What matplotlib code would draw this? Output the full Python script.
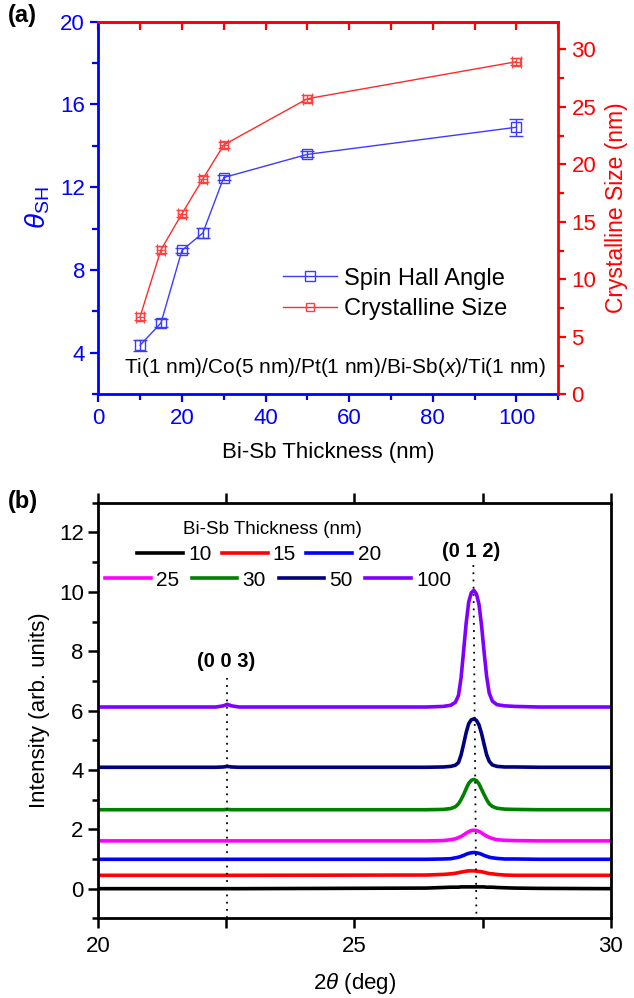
import matplotlib
matplotlib.use("Agg")
import matplotlib.pyplot as plt
from matplotlib.ticker import MultipleLocator

plt.rcParams['font.family'] = ['Liberation Sans', 'DejaVu Sans']
plt.rcParams['mathtext.fontset'] = 'custom'
plt.rcParams['mathtext.rm'] = 'Liberation Sans'
plt.rcParams['mathtext.it'] = 'Liberation Sans:italic'
plt.rcParams['mathtext.bf'] = 'Liberation Sans:bold'

# ---- panel (a) data ----
thick = [10, 15, 20, 25, 30, 50, 100]
sha = [4.37, 5.45, 8.95, 9.79, 12.47, 13.59, 14.90]
sha_err = [0.27, 0.20, 0.12, 0.22, 0.12, 0.14, 0.40]
size = [6.75, 12.57, 15.70, 18.72, 21.68, 25.70, 28.92]
size_err = [0.3, 0.3, 0.3, 0.3, 0.3, 0.3, 0.3]
size_xerr = [1.0, 1.0, 1.0, 1.0, 1.0, 1.0, 1.0]

# ---- panel (b) data: XRD scans ----
two_theta = [20.0, 22.3, 22.44, 22.52, 22.6, 22.75, 26.4,
             26.73, 26.88, 26.97, 27.03, 27.08, 27.13, 27.18, 27.23, 27.28, 27.33,
             27.38, 27.43, 27.48, 27.53, 27.58, 27.63, 27.69, 27.78, 27.93, 28.13,
             28.6, 30.0]
xrd_10 = [0.00, 0.00, 0.00, 0.00, 0.00, 0.00, 0.02,
          0.04, 0.05, 0.05, 0.05, 0.06, 0.06, 0.06, 0.06, 0.06, 0.06,
          0.06, 0.06, 0.06, 0.06, 0.05, 0.05, 0.05, 0.04, 0.03, 0.02,
          0.01, 0.00]
xrd_15 = [0.45, 0.45, 0.45, 0.45, 0.45, 0.45, 0.46,
          0.48, 0.50, 0.52, 0.54, 0.56, 0.57, 0.59, 0.60, 0.60, 0.60,
          0.59, 0.58, 0.57, 0.55, 0.53, 0.51, 0.50, 0.48, 0.46, 0.45,
          0.45, 0.45]
xrd_20 = [0.99, 0.99, 0.99, 0.99, 0.99, 0.99, 0.99,
          1.00, 1.01, 1.04, 1.06, 1.09, 1.12, 1.16, 1.19, 1.21, 1.22,
          1.21, 1.19, 1.16, 1.12, 1.09, 1.06, 1.04, 1.02, 1.00, 1.00,
          0.99, 0.99]
xrd_25 = [1.61, 1.61, 1.61, 1.61, 1.61, 1.61, 1.61,
          1.62, 1.65, 1.68, 1.72, 1.76, 1.81, 1.87, 1.92, 1.96, 1.97,
          1.96, 1.93, 1.88, 1.82, 1.77, 1.73, 1.69, 1.65, 1.63, 1.62,
          1.61, 1.61]
xrd_30 = [2.66, 2.66, 2.66, 2.67, 2.66, 2.66, 2.66,
          2.67, 2.70, 2.76, 2.86, 3.00, 3.17, 3.37, 3.55, 3.65, 3.68,
          3.64, 3.53, 3.35, 3.17, 3.00, 2.86, 2.77, 2.71, 2.68, 2.67,
          2.66, 2.66]
xrd_50 = [4.09, 4.09, 4.10, 4.12, 4.10, 4.09, 4.09,
          4.10, 4.12, 4.16, 4.25, 4.50, 4.87, 5.26, 5.56, 5.69, 5.72,
          5.67, 5.52, 5.23, 4.86, 4.51, 4.29, 4.17, 4.12, 4.10, 4.10,
          4.09, 4.09]
xrd_100 = [6.12, 6.12, 6.16, 6.21, 6.16, 6.12, 6.12,
           6.14, 6.18, 6.28, 6.51, 7.10, 8.01, 8.95, 9.66, 9.97, 10.05,
           9.93, 9.58, 8.87, 7.97, 7.14, 6.59, 6.32, 6.20, 6.16, 6.14,
           6.12, 6.12]
xrd_labels = ['10', '15', '20', '25', '30', '50', '100']
xrd_colors = ['#000000', '#ff0000', '#0000ff', '#ff00ff', '#008000', '#000080', '#8000ff']
peak_003 = 22.52
peak_012 = 27.33

BLUE = '#0000ff'
RED = '#ff0000'

fig = plt.figure(figsize=(6.34, 9.98), dpi=100)

# ================= (a) =================
ax1 = fig.add_axes([0.155, 0.6049, 0.7256, 0.3734])
ax2 = ax1.twinx()

l1, = ax1.plot(thick, sha, '-s', color='#3c3cff', lw=1.0, ms=7, mfc='none', mec='#3c3cff', mew=1.0)
ax1.errorbar(thick, sha, yerr=sha_err, fmt='none', ecolor='#3c3cff', elinewidth=1.0, capsize=5, capthick=1.0)
l2, = ax2.plot(thick, size, '-s', color='#ff2a2a', lw=1.0, ms=5.5, mfc='none', mec='#ff4040', mew=1.0)
ax2.errorbar(thick, size, yerr=size_err, xerr=size_xerr, fmt='none', ecolor='#ff4040',
             elinewidth=0.9, capsize=4, capthick=0.9)

ax1.set_xlim(0, 110)
ax1.set_ylim(2, 20)
ax2.set_ylim(0, 32.4)

ax1.xaxis.set_major_locator(MultipleLocator(20))
ax1.xaxis.set_minor_locator(MultipleLocator(10))
ax1.yaxis.set_major_locator(MultipleLocator(4))
ax1.yaxis.set_minor_locator(MultipleLocator(2))
ax2.yaxis.set_major_locator(MultipleLocator(5))
ax2.yaxis.set_minor_locator(MultipleLocator(2.5))

for s in ['left', 'bottom']:
    ax1.spines[s].set_color(BLUE)
    ax1.spines[s].set_linewidth(2)
    ax2.spines[s].set_visible(False)
for s in ['right', 'top']:
    ax2.spines[s].set_color(RED)
    ax2.spines[s].set_linewidth(2)
    ax1.spines[s].set_visible(False)

ax1.tick_params(axis='both', which='major', direction='out', length=6, width=1.6,
                color=BLUE, labelcolor=BLUE, labelsize=16)
ax1.tick_params(axis='both', which='minor', direction='out', length=4, width=1.6, color=BLUE)
ax2.tick_params(axis='y', which='major', direction='out', length=6, width=1.6,
                color=RED, labelcolor=RED, labelsize=16)
ax2.tick_params(axis='y', which='minor', direction='out', length=4, width=1.6, color=RED)

top = ax1.secondary_xaxis('top')
top.xaxis.set_major_locator(MultipleLocator(10))
top.tick_params(axis='x', direction='in', length=6, width=1.6, color=RED, labeltop=False)
top.spines['top'].set_color(RED)
top.spines['top'].set_linewidth(2)

ax1.set_xlabel('Bi-Sb Thickness (nm)', fontsize=16, labelpad=10)
ax1.set_ylabel(r'$\theta_{\rm SH}$', fontsize=20, color=BLUE, labelpad=6)
ax2.set_ylabel('Crystalline Size (nm)', fontsize=16.5, color=RED, labelpad=6)

ax2.legend([l1, l2], ['Spin Hall Angle', 'Crystalline Size'], loc='center left',
           bbox_to_anchor=(0.375, 0.27), frameon=False, fontsize=17, handlelength=2.3,
           handletextpad=0.3, labelspacing=0.35, borderpad=0)
ax1.text(0.515, 0.071, r'Ti(1 nm)/Co(5 nm)/Pt(1 nm)/Bi-Sb($\it{x}$)/Ti(1 nm)',
         transform=ax1.transAxes, ha='center', va='center', fontsize=15)

fig.text(0.012, 0.984, '(a)', fontsize=17, fontweight='bold', va='center')

# ================= (b) =================
ax3 = fig.add_axes([0.155, 0.0798, 0.8082, 0.4164])
curves = [xrd_10, xrd_15, xrd_20, xrd_25, xrd_30, xrd_50, xrd_100]
handles = []
for ys, c in zip(curves, xrd_colors):
    h, = ax3.plot(two_theta, ys, color=c, lw=2.6, solid_joinstyle='round')
    handles.append(h)

ax3.plot([peak_003, peak_003], [-1, 7.1], color='black', lw=1.3, ls=(0, (1, 3)))
ax3.plot([peak_012 - 0.01, peak_012 + 0.05], [10.9, -1], color='black', lw=1.3, ls=(0, (1, 3)))
ax3.text(22.5, 7.65, '(0 0 3)', ha='center', va='center', fontsize=14.5, fontweight='bold')
ax3.text(27.28, 11.37, '(0 1 2)', ha='center', va='center', fontsize=14.5, fontweight='bold')

ax3.set_xlim(20, 30)
ax3.set_ylim(-1, 13)
ax3.set_xticks([20, 25, 30])
ax3.xaxis.set_minor_locator(MultipleLocator(2.5))
ax3.yaxis.set_major_locator(MultipleLocator(2))
ax3.yaxis.set_minor_locator(MultipleLocator(1))
for s in ax3.spines.values():
    s.set_linewidth(2)
ax3.tick_params(axis='x', which='both', direction='out', length=7, width=1.8,
                top=True, labelsize=16, pad=6)
ax3.tick_params(axis='y', which='major', direction='out', length=7, width=1.8, labelsize=16)
ax3.tick_params(axis='y', which='minor', direction='out', length=4, width=1.8)

ax3.set_xlabel(r'2$\it{\theta}$ (deg)', fontsize=16, labelpad=10)
ax3.set_ylabel('Intensity (arb. units)', fontsize=16, labelpad=6)

fig.legend(handles[:3], xrd_labels[:3], loc='center left',
           bbox_to_anchor=(0.216, 0.4439), ncol=3, frameon=False, fontsize=15,
           handlelength=2.2, handletextpad=0.25, columnspacing=0.5, borderpad=0,
           borderaxespad=0)
fig.legend(handles[3:], xrd_labels[3:], loc='center left',
           bbox_to_anchor=(0.1656, 0.4188), ncol=4, frameon=False, fontsize=15,
           handlelength=2.2, handletextpad=0.25, columnspacing=0.6, borderpad=0,
           borderaxespad=0)
fig.text(0.429, 0.469, 'Bi-Sb Thickness (nm)', ha='center', va='center', fontsize=13.5)

fig.text(0.012, 0.497, '(b)', fontsize=17, fontweight='bold', va='center')

fig.savefig('out.png', dpi=100)
